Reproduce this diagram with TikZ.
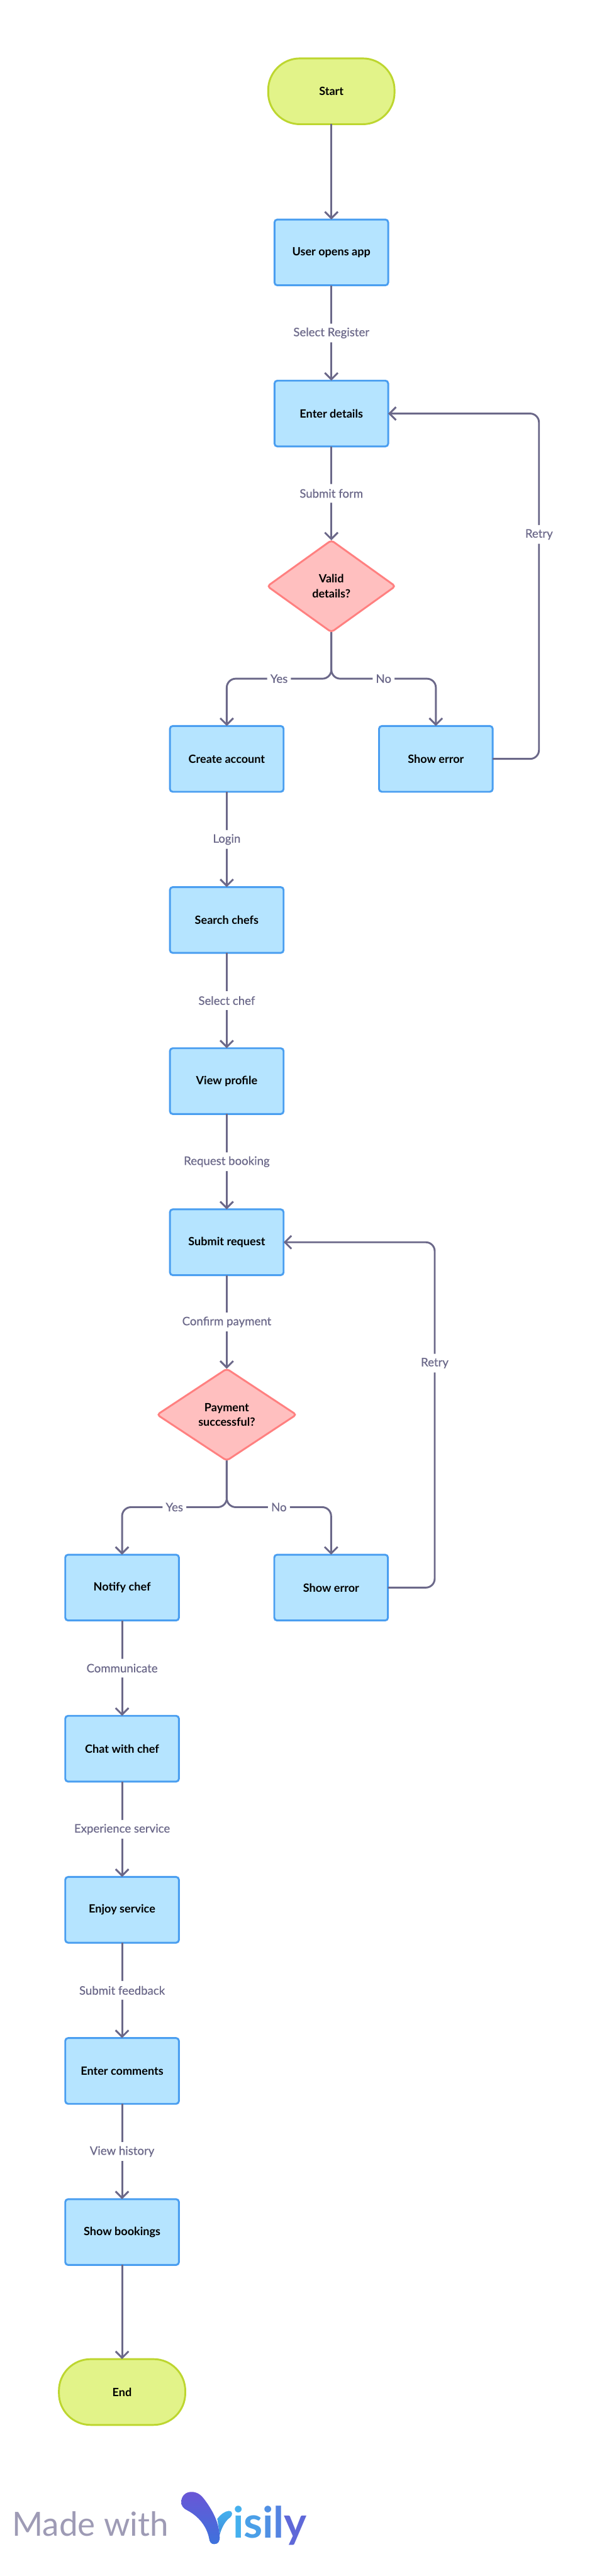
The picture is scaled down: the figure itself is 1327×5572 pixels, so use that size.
\documentclass[tikz,border=0pt]{standalone}
\usepackage{fontspec}
\setmainfont{Lato}
\newfontfamily\flowfont[FakeBold=0.5]{Lato}
\usetikzlibrary{shapes.geometric,arrows.meta}
\definecolor{flowline}{HTML}{6B6889}
\definecolor{boxfill}{HTML}{B5E4FF}
\definecolor{boxedge}{HTML}{4A9EF0}
\definecolor{termfill}{HTML}{E2F389}
\definecolor{termedge}{HTML}{BDD62F}
\definecolor{decfill}{HTML}{FFBFBF}
\definecolor{decedge}{HTML}{FF8080}
\definecolor{madegray}{HTML}{9E9BB5}
\definecolor{logotop}{HTML}{6A56D6}
\definecolor{logolow}{HTML}{3D72DC}
\definecolor{logolight}{HTML}{45B0EE}
\definecolor{logomid}{HTML}{3E90DC}
\tikzset{
  stepbox/.style={draw=boxedge, fill=boxfill, line width=2.27pt, rounded corners=3.5pt, minimum width=139.9pt, minimum height=81pt, inner sep=0pt, outer sep=0pt, align=center, font=\fontsize{14}{17}\selectfont\bfseries},
  termbox/.style={draw=termedge, fill=termfill, line width=2.27pt, rounded corners=39pt, minimum width=155.5pt, minimum height=81pt, inner sep=0pt, outer sep=0pt, font=\fontsize{14}{17}\selectfont\bfseries},
  decbox/.style={diamond, draw=decedge, fill=decfill, line width=2.27pt, rounded corners=3.5pt, minimum width=#1, minimum height=113pt, inner sep=0pt, outer sep=0pt, align=center, font=\fontsize{14}{18.3}\selectfont\bfseries},
  conn/.style={draw=flowline, line width=2.27pt, rounded corners=11pt, -{Straight Barb[length=8pt,width=16pt,line width=2.27pt]}},
  flowlabel/.style={fill=white, text=flowline, inner xsep=4pt, inner ysep=0pt, minimum height=23pt, font=\flowfont\fontsize{14.4}{15}\selectfont}
}
\begin{document}
\begin{tikzpicture}[x=0.02cm, y=-0.02cm]
  \useasboundingbox (0,0) rectangle (1327,5572);
  \node[termbox] (start) at (716.5,197.5) {Start};
  \node[stepbox] (open) at (716.5,546) {User opens app};
  \node[stepbox] (details) at (716.5,894.5) {Enter details};
  \node[decbox=157.5pt] (valid) at (716.5,1268) {Valid\\details?};
  \node[stepbox] (create) at (490.3,1641.5) {Create account};
  \node[stepbox] (errora) at (942.5,1641.5) {Show error};
  \node[stepbox] (search) at (490.3,1990) {Search chefs};
  \node[stepbox] (profile) at (490.3,2338.5) {View profile};
  \node[stepbox] (submit) at (490.3,2687) {Submit request};
  \node[decbox=171.3pt] (paid) at (490.3,3060) {Payment\\successful?};
  \node[stepbox] (notify) at (264,3434) {Notify chef};
  \node[stepbox] (errorb) at (716,3434) {Show error};
  \node[stepbox] (chat) at (264,3782.5) {Chat with chef};
  \node[stepbox] (enjoy) at (264,4131) {Enjoy service};
  \node[stepbox] (comments) at (264,4479.5) {Enter comments};
  \node[stepbox] (bookings) at (264,4828) {Show bookings};
  \node[termbox] (end) at (264,5174) {End};
  \coordinate (yesa) at (490.3,1468);
  \coordinate (noa) at (942.5,1468);
  \coordinate (yesb) at (264,3260);
  \coordinate (nob) at (716,3260);
  \coordinate (retrya) at (1165.5,894.5);
  \coordinate (retryb) at (940,2687);
  \draw[conn] (start) -- (open);
  \draw[conn] (open) -- node[flowlabel] (lselect) {Select Register} (details);
  \draw[conn] (details) -- node[flowlabel] (lform) {Submit form} (valid);
  \draw[conn] (valid.south) |- node[flowlabel, pos=0.75] (lyesa) {Yes} (yesa) -- (create.north);
  \draw[conn] (valid.south) |- node[flowlabel, pos=0.75] (lnoa) {No} (noa) -- (errora.north);
  \draw[conn] (errora.east) -| node[flowlabel, pos=0.825] (lretrya) {Retry} (retrya) -- (details.east);
  \draw[conn] (create) -- node[flowlabel] (llogin) {Login} (search);
  \draw[conn] (search) -- node[flowlabel] (lchef) {Select chef} (profile);
  \draw[conn] (profile) -- node[flowlabel] (lrequest) {Request booking} (submit);
  \draw[conn] (submit) -- node[flowlabel] (lconfirm) {Confirm payment} (paid);
  \draw[conn] (paid.south) |- node[flowlabel, pos=0.75] (lyesb) {Yes} (yesb) -- (notify.north);
  \draw[conn] (paid.south) |- node[flowlabel, pos=0.75] (lnob) {No} (nob) -- (errorb.north);
  \draw[conn] (errorb.east) -| node[flowlabel, pos=0.825] (lretryb) {Retry} (retryb) -- (submit.east);
  \draw[conn] (notify) -- node[flowlabel] (lcomm) {Communicate} (chat);
  \draw[conn] (chat) -- node[flowlabel] (lexp) {Experience service} (enjoy);
  \draw[conn] (enjoy) -- node[flowlabel] (lfeed) {Submit feedback} (comments);
  \draw[conn] (comments) -- node[flowlabel] (lhist) {View history} (bookings);
  \draw[conn] (bookings) -- (end);
  \node[anchor=base west, inner sep=0pt, text=madegray, font=\fontsize{41}{41}\selectfont] (made) at (26,5485) {Made with};
  \shade[top color=logolight, bottom color=logomid] (470,5448) .. controls (478,5438) and (486,5432) .. (495,5431) .. controls (503,5431) and (504,5440) .. (498,5445) .. controls (488,5452) and (480,5465) .. (475,5483) -- cycle;
  \shade[top color=logotop, bottom color=logolow] (392,5412) .. controls (392,5398) and (402,5390) .. (414,5390) .. controls (426,5390) and (434,5396) .. (441,5405) .. controls (460,5430) and (473,5455) .. (475,5485) .. controls (476,5497) and (472,5503) .. (463,5503) .. controls (456,5503) and (453,5498) .. (452,5490) .. controls (447,5465) and (430,5443) .. (405,5430) .. controls (396,5426) and (392,5420) .. (392,5412) -- cycle;
  \node[anchor=base west, inner sep=0pt, font=\fontsize{53}{53}\selectfont\bfseries] (visily) at (503,5490) {\textcolor[HTML]{45B0EE}{i}\textcolor[HTML]{4A9FE8}{s}\textcolor[HTML]{5090E4}{i}\textcolor[HTML]{5484E2}{l}\textcolor[HTML]{5F68D8}{y}};
\end{tikzpicture}
\end{document}
